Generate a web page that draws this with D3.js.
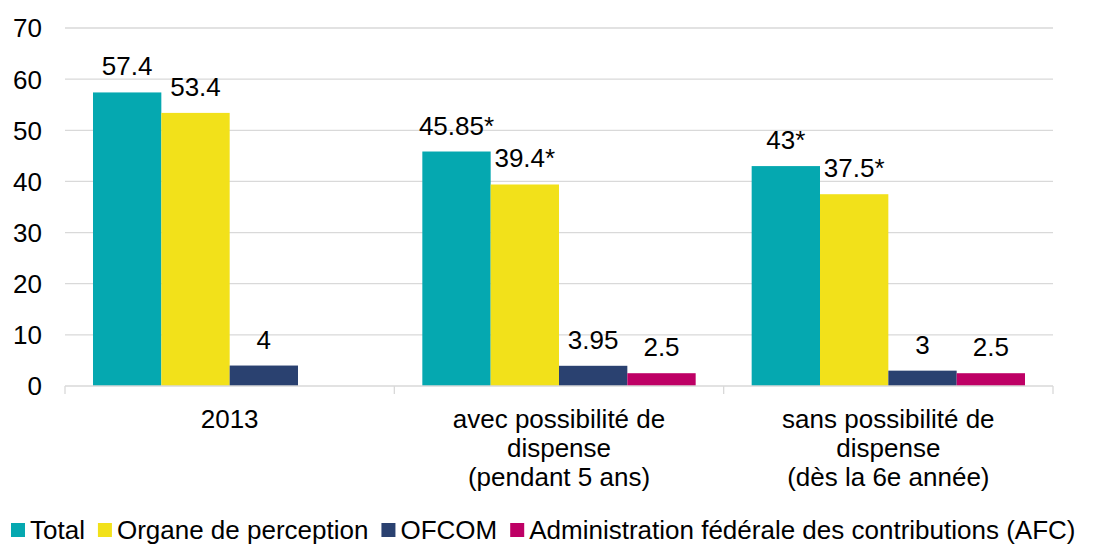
<!DOCTYPE html>
<html>
<head>
<meta charset="utf-8">
<script src="https://cdn.jsdelivr.net/npm/d3@7"></script>
<style>
body{margin:0;background:#fff;overflow:hidden;}
svg{font-family:"Liberation Sans",Arial,sans-serif;}
</style>
</head>
<body>
<svg id="chart"></svg>
<script>
// data
var categories = [
    ["2013"],
    ["avec possibilité de","dispense","(pendant 5 ans)"],
    ["sans possibilité de","dispense","(dès la 6e année)"]
]
var seriesNames = ["Total","Organe de perception","OFCOM","Administration fédérale des contributions (AFC)"]
var totalValues = [57.4,45.85,43]
var organeValues = [53.4,39.4,37.5]
var ofcomValues = [4,3.95,3]
var afcValues = [null,2.5,2.5]
var valueLabels = [
    ["57.4","45.85*","43*"],
    ["53.4","39.4*","37.5*"],
    ["4","3.95","3"],
    ["","2.5","2.5"]
]
var yTicks = [0,10,20,30,40,50,60,70]
var colors = ["#05a8b0","#f2e11a","#2a4170","#be0065"]

var screen = {width:1094,height:544}
var margins = {top:28,right:41,bottom:158,left:65}

var width = screen.width - margins.left - margins.right
var height = screen.height - margins.top - margins.bottom

var svg = d3.select("#chart")
    .attr("width",screen.width)
    .attr("height",screen.height)

var graph = svg.append("g")
    .attr("transform","translate("+margins.left+","+margins.top+")")

var allValues = [totalValues,organeValues,ofcomValues,afcValues]

var xScale = d3.scaleBand()
    .domain(d3.range(categories.length))
    .range([0,width])

var innerScale = d3.scaleBand()
    .domain(d3.range(seriesNames.length))
    .range([28,xScale.bandwidth()-28])

var yScale = d3.scaleLinear()
    .domain([0,70])
    .range([height,0])

// gridlines
graph.selectAll(".grid")
    .data(yTicks.slice(1))
    .enter()
    .append("line")
    .attr("x1",0)
    .attr("x2",width)
    .attr("y1",function(d){return yScale(d)})
    .attr("y2",function(d){return yScale(d)})
    .attr("stroke","#d9d9d9")
    .attr("stroke-width",1.3)

// y labels
graph.selectAll(".ylab")
    .data(yTicks)
    .enter()
    .append("text")
    .attr("x",-23)
    .attr("y",function(d){return yScale(d)})
    .attr("dy","0.36em")
    .attr("text-anchor","end")
    .attr("font-size",26)
    .attr("fill","#000")
    .text(function(d){return d})

// bars
var rows = []
allValues.forEach(function(vals,s)
{
    vals.forEach(function(v,c)
    {
        if(v!==null) rows.push({s:s,c:c,v:v,label:valueLabels[s][c]})
    })
})

graph.selectAll("rect.bar")
    .data(rows)
    .enter()
    .append("rect")
    .attr("class","bar")
    .attr("x",function(d){return xScale(d.c)+innerScale(d.s)})
    .attr("width",innerScale.bandwidth())
    .attr("y",function(d){return yScale(d.v)})
    .attr("height",function(d){return height-yScale(d.v)})
    .attr("fill",function(d){return colors[d.s]})

graph.selectAll("text.val")
    .data(rows)
    .enter()
    .append("text")
    .attr("class","val")
    .attr("x",function(d){return xScale(d.c)+innerScale(d.s)+innerScale.bandwidth()/2})
    .attr("y",function(d){return yScale(d.v)-17})
    .attr("text-anchor","middle")
    .attr("font-size",26)
    .attr("fill","#000")
    .text(function(d){return d.label})

// x axis
var axis = graph.append("g")
    .attr("transform","translate(0,"+height+")")

axis.append("line")
    .attr("x1",0)
    .attr("x2",width)
    .attr("stroke","#d9d9d9")
    .attr("stroke-width",1.3)

axis.selectAll(".tick")
    .data(d3.range(categories.length+1))
    .enter()
    .append("line")
    .attr("x1",function(i){return i*xScale.step()})
    .attr("x2",function(i){return i*xScale.step()})
    .attr("y1",0)
    .attr("y2",8)
    .attr("stroke","#d9d9d9")
    .attr("stroke-width",1.3)

axis.selectAll("text.cat")
    .data(categories)
    .enter()
    .append("text")
    .attr("class","cat")
    .attr("text-anchor","middle")
    .attr("font-size",26)
    .attr("fill","#000")
    .each(function(lines,i)
    {
        var t = d3.select(this)
        lines.forEach(function(line,j)
        {
            t.append("tspan")
                .attr("x",xScale(i)+xScale.bandwidth()/2)
                .attr("y",42+j*29)
                .text(line)
        })
    })

// legend
var legend = svg.append("g")
    .attr("transform","translate(11,523)")

var lx = 0
seriesNames.forEach(function(name,i)
{
    legend.append("rect")
        .attr("x",lx)
        .attr("y",0)
        .attr("width",14)
        .attr("height",14)
        .attr("fill",colors[i])
    var txt = legend.append("text")
        .attr("x",lx+19)
        .attr("y",16)
        .attr("font-size",26)
        .attr("fill","#000")
        .text(name)
    lx = lx + 19 + txt.node().getComputedTextLength() + 13
})
</script>
</body>
</html>
